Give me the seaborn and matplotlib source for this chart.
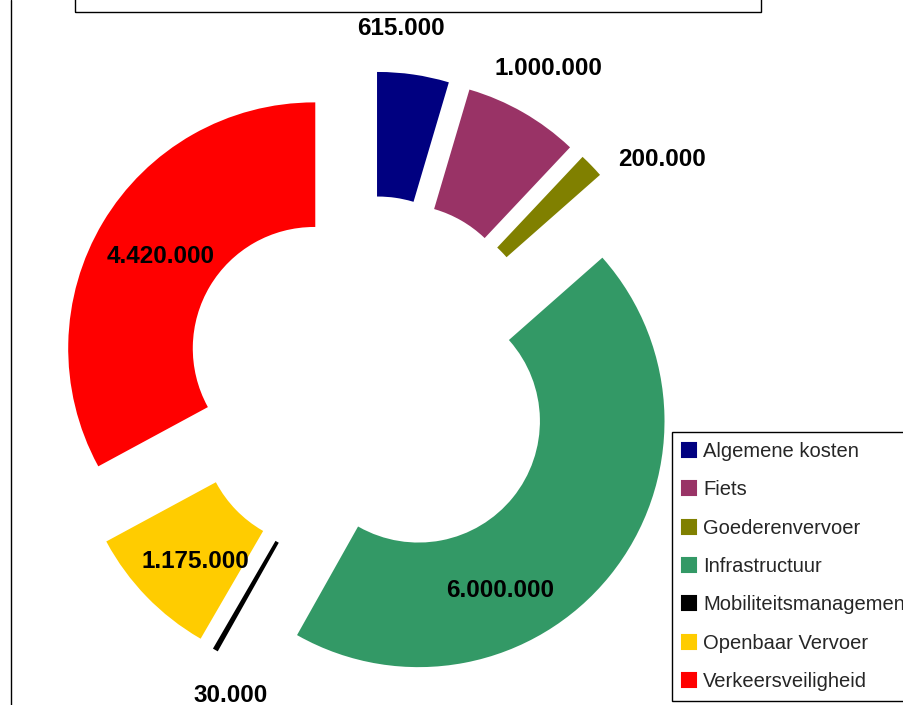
import matplotlib
matplotlib.use("Agg")
import matplotlib.pyplot as plt
import seaborn as sns
from matplotlib.patches import Rectangle
from matplotlib.lines import Line2D
import numpy as np

# data
categories = ["Algemene kosten", "Fiets", "Goederenvervoer", "Infrastructuur",
              "Mobiliteitsmanagement", "Openbaar Vervoer", "Verkeersveiligheid"]
values = [615000, 1000000, 200000, 6000000, 30000, 1175000, 4420000]
kleuren = ["#000080", "#993366", "#808000", "#339966", "#000000", "#FFCC00", "#FF0000"]

# label layout (radius and angle tweak per wedge)
label_r = [1.447, 1.469, 1.50, 1.01, 1.40, 1.022, 0.992]
label_shift = [3, 0, -7, -19, 6, 2, 0]

sns.set_theme(style="white")
plt.rcParams["font.family"] = ["Liberation Sans", "DejaVu Sans"]

fig = plt.figure(figsize=(9.04, 7.05), dpi=100)
ax = fig.add_axes([0, 0, 1, 1])
palette = sns.color_palette(kleuren)

wedges, _ = ax.pie(values, colors=palette, startangle=90, counterclock=False,
                   explode=[0.26] * len(values), radius=1,
                   wedgeprops=dict(width=0.5, linewidth=1.5))
for w in wedges:
    w.set_edgecolor(w.get_facecolor())
ax.set_xlim(-1.506, 2.184)
ax.set_ylim(-1.322, 1.555)
ax.set_aspect("equal")
ax.axis("off")

for w, v, r, s in zip(wedges, values, label_r, label_shift):
    mid = np.deg2rad((w.theta1 + w.theta2) / 2 + s)
    tekst = f"{v:,}".replace(",", ".")
    ax.text(r * np.cos(mid), r * np.sin(mid), tekst, ha="center", va="center",
            fontsize=17.5, fontweight="bold", color="black")

fig.legend(wedges, categories, loc="upper left",
           bbox_to_anchor=(672 / 904, 1 - 432 / 705), frameon=True, fancybox=False,
           edgecolor="black", framealpha=1, fontsize=14.5, handlelength=0.7,
           handleheight=0.7, handletextpad=0.35, labelspacing=0.96,
           borderpad=0.5, borderaxespad=0)

# title box (cut off) and left border
fig.add_artist(Rectangle((75 / 904, 1 - 12 / 705), (761 - 75) / 904, 0.1,
                         transform=fig.transFigure, fill=False,
                         edgecolor="black", lw=1))
fig.add_artist(Line2D([10.5 / 904, 10.5 / 904], [0, 1], transform=fig.transFigure,
                      color="black", lw=1))

fig.savefig("out.png", dpi=100)
